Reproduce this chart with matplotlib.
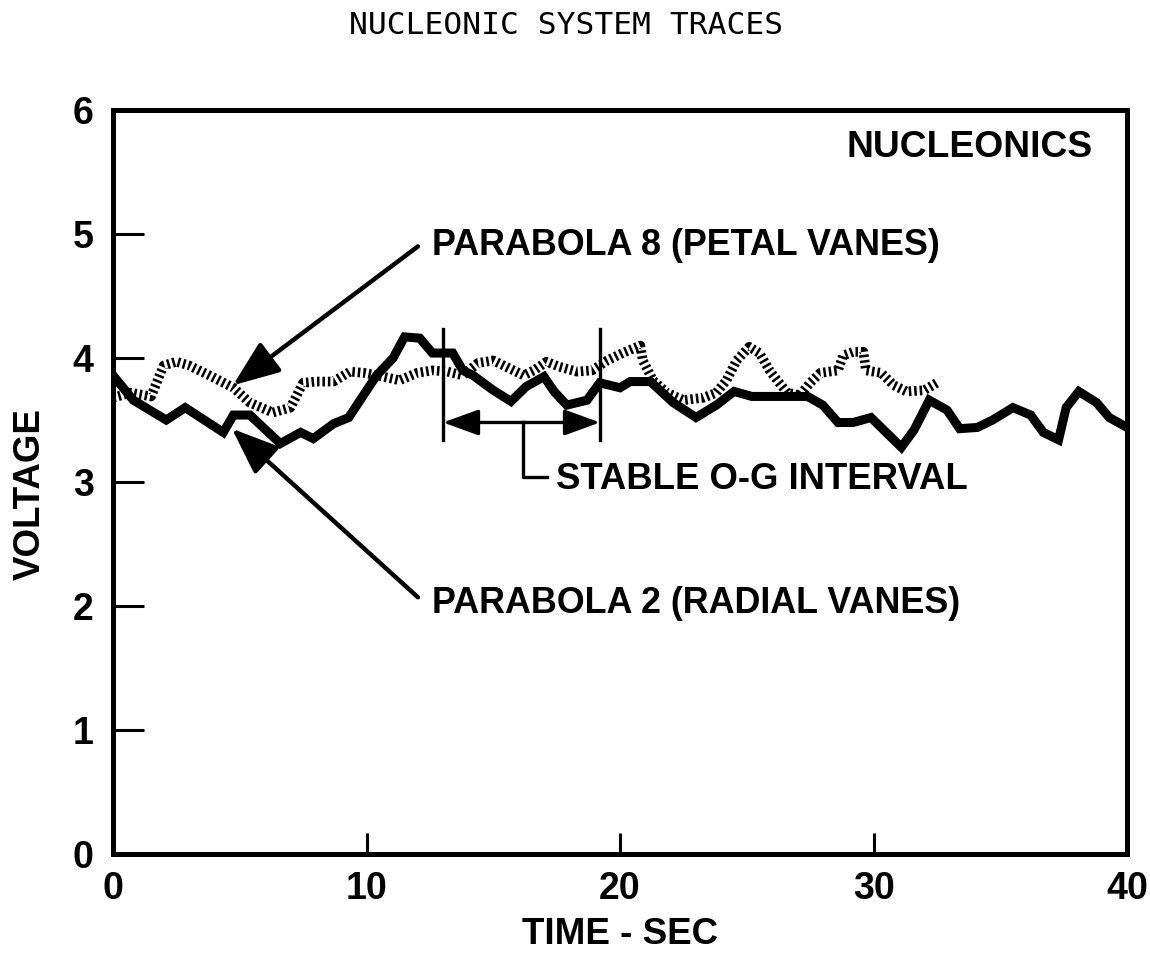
import matplotlib
matplotlib.use("Agg")
import matplotlib.pyplot as plt

# ---- data ----
t_radial = [0, 0.8, 2.1, 2.85, 4.35, 4.75, 5.4, 6.6, 7.4, 7.9, 8.7, 9.3, 9.75, 10.4, 11.05,
            11.5, 12.1, 12.6, 13.4, 13.8, 14.2, 15.0, 15.7, 16.3, 17.0, 17.4, 17.9, 18.7, 19.2,
            20.0, 20.4, 21.2, 22.1, 23.0, 23.8, 24.5, 25.2, 27.4, 28.0, 28.6, 29.2, 29.9, 30.4,
            31.1, 31.6, 32.2, 32.9, 33.4, 34.1, 34.7, 35.5, 36.2, 36.7, 37.3, 37.6, 38.1, 38.8,
            39.3, 40.0]
v_radial = [3.86, 3.66, 3.5, 3.6, 3.4, 3.54, 3.54, 3.31, 3.4, 3.35, 3.47, 3.52, 3.66, 3.86, 4.0,
            4.17, 4.16, 4.04, 4.04, 3.9, 3.86, 3.74, 3.65, 3.77, 3.85, 3.73, 3.62, 3.66, 3.8,
            3.76, 3.81, 3.81, 3.64, 3.52, 3.62, 3.73, 3.69, 3.69, 3.62, 3.48, 3.48, 3.52, 3.42,
            3.28, 3.42, 3.66, 3.58, 3.43, 3.44, 3.5, 3.6, 3.54, 3.4, 3.34, 3.6, 3.73, 3.64,
            3.52, 3.44]

t_petal = [0, 0.7, 1.5, 2.0, 2.5, 3.0, 3.8, 4.75, 5.4, 6.3, 7.0, 7.5, 8.0, 8.7, 9.35,
           9.9, 10.65, 11.3, 12.0, 12.6, 13.2, 13.8, 14.4, 15.0, 15.5, 16.2, 16.6, 17.1, 17.6, 18.3,
           18.9, 19.5, 20.1, 20.8, 20.9, 21.3, 21.85, 22.5, 23.3, 23.8, 24.2, 24.6, 25.1, 25.5, 25.9,
           26.2, 26.6, 27.1, 27.5, 27.9, 28.6, 28.8, 29.2, 29.6, 29.7, 30.3, 30.8, 31.3, 32.0, 32.5]
v_petal = [3.68, 3.72, 3.69, 3.94, 3.97, 3.94, 3.86, 3.76, 3.64, 3.56, 3.6, 3.8, 3.81, 3.81, 3.89,
           3.88, 3.85, 3.82, 3.88, 3.9, 3.89, 3.86, 3.96, 3.98, 3.93, 3.86, 3.9, 3.97, 3.93, 3.89,
           3.9, 3.98, 4.04, 4.1, 3.98, 3.82, 3.72, 3.66, 3.68, 3.72, 3.82, 3.98, 4.09, 4.04, 3.9,
           3.82, 3.72, 3.7, 3.8, 3.88, 3.9, 4.02, 4.05, 4.05, 3.9, 3.88, 3.78, 3.73, 3.74, 3.8]

x_ticks = [0, 10, 20, 30, 40]
y_ticks = [0, 1, 2, 3, 4, 5, 6]

title = "NUCLEONIC SYSTEM TRACES"
x_label = "TIME - SEC"
y_label = "VOLTAGE"
label_petal = "PARABOLA 8 (PETAL VANES)"
label_radial = "PARABOLA 2 (RADIAL VANES)"
label_interval = "STABLE O-G INTERVAL"
label_panel = "NUCLEONICS"

# ---- figure ----
BOLD = dict(family="Liberation Sans", weight="bold")
fig = plt.figure(figsize=(11.5, 9.59), dpi=100)
ax = fig.add_axes([113 / 1150, 1 - 854 / 959, (1127 - 113) / 1150, (854 - 110) / 959])

ax.plot(t_petal, v_petal, color="black", lw=7, linestyle=(0, (0.26, 0.30)),
        solid_capstyle="butt", dash_capstyle="butt", zorder=2)
ax.plot(t_radial, v_radial, color="black", lw=6.5, solid_joinstyle="miter", zorder=3)

ax.set_xlim(0, 40)
ax.set_ylim(0, 6)
ax.set_xticks(x_ticks)
ax.set_yticks(y_ticks)
ax.set_xticklabels([str(v) for v in x_ticks], fontsize=27, **BOLD)
ax.set_yticklabels([str(v) for v in y_ticks], fontsize=27, **BOLD)
ax.tick_params(axis="x", direction="in", length=15, width=2.2, pad=12)
ax.tick_params(axis="y", direction="in", length=22, width=2.2, pad=14)
for s in ax.spines.values():
    s.set_linewidth(3.6)

ax.set_xlabel(x_label, fontsize=26.5, **BOLD)
ax.xaxis.set_label_coords(0.5, (854 - 935) / 744, transform=ax.transAxes)
ax.xaxis.label.set_va("center")
ax.set_ylabel(y_label, fontsize=26.5, **BOLD)
ax.yaxis.set_label_coords((30 - 113) / 1014, (854 - 494) / 744, transform=ax.transAxes)
ax.yaxis.label.set_va("center")

fig.text(566 / 1150, 1 - 25 / 959, title, family="DejaVu Sans Mono", fontsize=22.5,
         ha="center", va="center")

ax.text(38.66, 5.70, label_panel, fontsize=26.8, ha="right", va="center", **BOLD)
ax.text(12.58, 4.91, label_petal, fontsize=25.8, ha="left", va="center", **BOLD)
ax.text(12.58, 2.02, label_radial, fontsize=25.8, ha="left", va="center", **BOLD)
ax.text(17.48, 3.02, label_interval, fontsize=26.3, ha="left", va="center", **BOLD)

big_arrow = dict(arrowstyle="-|>,head_length=1.15,head_width=0.45", lw=3.2, color="black",
                 mutation_scale=25, shrinkA=0, shrinkB=0)
ax.annotate("", xy=(4.73, 3.78), xytext=(12.03, 4.90), arrowprops=big_arrow)
ax.annotate("", xy=(4.69, 3.43), xytext=(12.03, 2.07), arrowprops=big_arrow)

# stable interval markers
for xv in (13.02, 19.21):
    ax.plot([xv, xv], [3.34, 4.23], color="black", lw=2.4, zorder=4)
ax.annotate("", xy=(13.02, 3.48), xytext=(19.21, 3.48),
            arrowprops=dict(arrowstyle="<|-|>,head_length=1.1,head_width=0.4", lw=2.4,
                            color="black", mutation_scale=20, shrinkA=0, shrinkB=0))
ax.plot([16.17, 16.17, 17.12], [3.48, 3.04, 3.04], color="black", lw=2.4)

fig.savefig("out.png", dpi=100)
